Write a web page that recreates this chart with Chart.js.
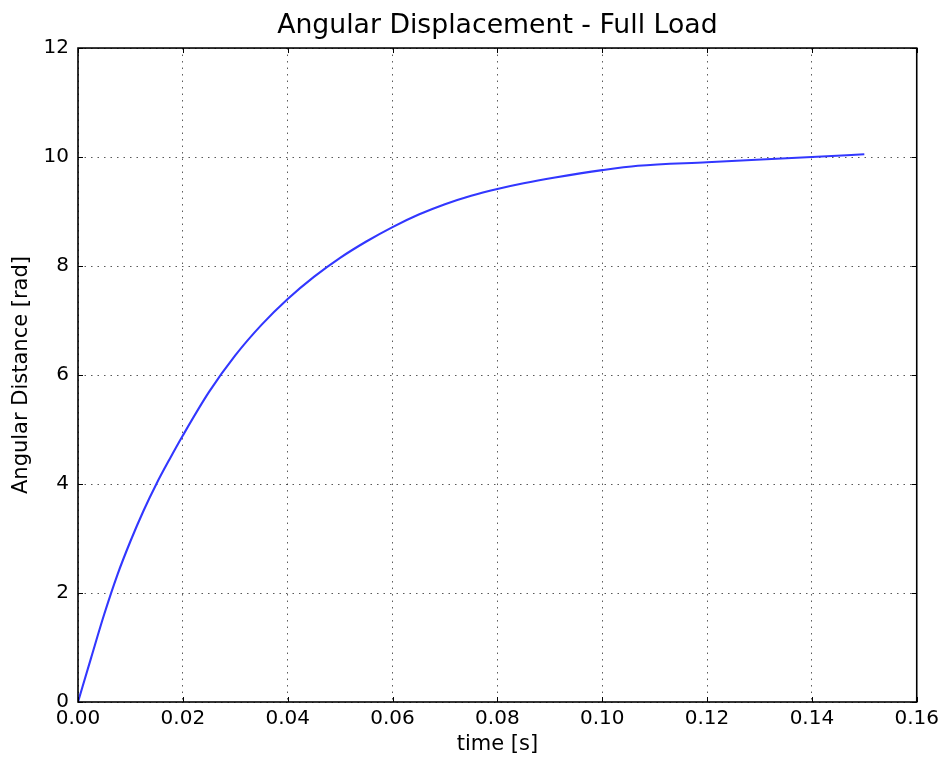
<!DOCTYPE html>
<html>
<head>
<meta charset="utf-8">
<title>Angular Displacement - Full Load</title>
<script src="https://cdn.jsdelivr.net/npm/chart.js@4/dist/chart.umd.min.js"></script>
<style>
    html, body { margin: 0; padding: 0; background: #fff; }
    #wrap { width: 944px; height: 760px; }
</style>
</head>
<body>
<div id="wrap"><canvas id="myChart" width="944" height="760"></canvas></div>
<script>
// simulated response, full load
const timeValues = [0, 0.0025, 0.005, 0.0075, 0.010, 0.0125, 0.015, 0.0175, 0.020,
    0.025, 0.030, 0.035, 0.040, 0.045, 0.050, 0.055, 0.060, 0.065, 0.070, 0.075,
    0.080, 0.085, 0.091, 0.100, 0.1068, 0.120, 0.140, 0.150];
const angleValues = [0, 0.81, 1.61, 2.33, 2.95, 3.51, 4.01, 4.46, 4.89,
    5.69, 6.36, 6.92, 7.395, 7.80, 8.15, 8.45, 8.715, 8.945, 9.135, 9.29,
    9.415, 9.52, 9.625, 9.76, 9.84, 9.905, 10.0, 10.05];

const xTicks = [0, 0.02, 0.04, 0.06, 0.08, 0.10, 0.12, 0.14, 0.16];
const yTicks = [0, 2, 4, 6, 8, 10, 12];

const fontFamily = '"DejaVu Sans", sans-serif';

// box round the plot plus inward tick marks on all four sides
const frame = {
    id: 'frame',
    afterDraw(chart) {
        const {ctx, chartArea: a, scales} = chart;
        ctx.save();
        ctx.strokeStyle = '#000';
        ctx.lineWidth = 1;
        scales.x.ticks.forEach(t => {
            const px = Math.round(scales.x.getPixelForValue(t.value)) + 0.5;
            ctx.beginPath();
            ctx.moveTo(px, a.bottom); ctx.lineTo(px, a.bottom - 5);
            ctx.moveTo(px, a.top); ctx.lineTo(px, a.top + 5);
            ctx.stroke();
        });
        scales.y.ticks.forEach(t => {
            const py = Math.round(scales.y.getPixelForValue(t.value)) + 0.5;
            ctx.beginPath();
            ctx.moveTo(a.left, py); ctx.lineTo(a.left + 5, py);
            ctx.moveTo(a.right, py); ctx.lineTo(a.right - 5, py);
            ctx.stroke();
        });
        ctx.lineWidth = 1.6;
        ctx.strokeRect(a.left, a.top, a.right - a.left, a.bottom - a.top);
        ctx.restore();
    }
};

const points = timeValues.map((t, i) => ({x: t, y: angleValues[i]}));

new Chart(document.getElementById('myChart').getContext('2d'), {
    type: 'line',
    data: {
        datasets: [{
            data: points,
            borderColor: 'rgb(50,55,255)',
            borderWidth: 2.1,
            pointRadius: 0,
            fill: false,
            cubicInterpolationMode: 'monotone'
        }]
    },
    options: {
        responsive: false,
        animation: false,
        layout: { padding: { left: 0, right: 27, top: 0, bottom: 0 } },
        plugins: {
            legend: { display: false },
            tooltip: { enabled: false },
            title: {
                display: true,
                fullSize: false,
                text: 'Angular Displacement - Full Load',
                color: '#000',
                font: { family: fontFamily, size: 26.7, weight: 'normal', lineHeight: 1.2 },
                padding: { top: 10, bottom: 6 }
            }
        },
        scales: {
            x: {
                type: 'linear',
                min: 0,
                max: 0.16,
                afterBuildTicks: s => { s.ticks = xTicks.map(v => ({value: v})); },
                afterFit: s => { s.height = 58; },
                ticks: {
                    color: '#000',
                    padding: 5,
                    maxRotation: 0,
                    font: { family: fontFamily, size: 20 },
                    callback: v => v.toFixed(2)
                },
                grid: {
                    color: 'rgba(0,0,0,0.65)',
                    lineWidth: 1,
                    drawTicks: false
                },
                border: { display: false, dash: [1.5, 5] },
                title: {
                    display: true,
                    text: 'time [s]',
                    color: '#000',
                    font: { family: fontFamily, size: 21, lineHeight: 1.2 },
                    padding: { top: 0, bottom: 3 }
                }
            },
            y: {
                min: 0,
                max: 12,
                afterBuildTicks: s => { s.ticks = yTicks.map(v => ({value: v})); },
                afterFit: s => { s.width = 78; },
                ticks: {
                    color: '#000',
                    padding: 9,
                    font: { family: fontFamily, size: 20 }
                },
                grid: {
                    color: 'rgba(0,0,0,0.65)',
                    lineWidth: 1,
                    drawTicks: false
                },
                border: { display: false, dash: [1.5, 5] },
                title: {
                    display: true,
                    text: 'Angular Distance [rad]',
                    color: '#000',
                    font: { family: fontFamily, size: 21, lineHeight: 1.2 },
                    padding: { top: 9, bottom: 0 }
                }
            }
        }
    },
    plugins: [frame]
});
</script>
</body>
</html>
